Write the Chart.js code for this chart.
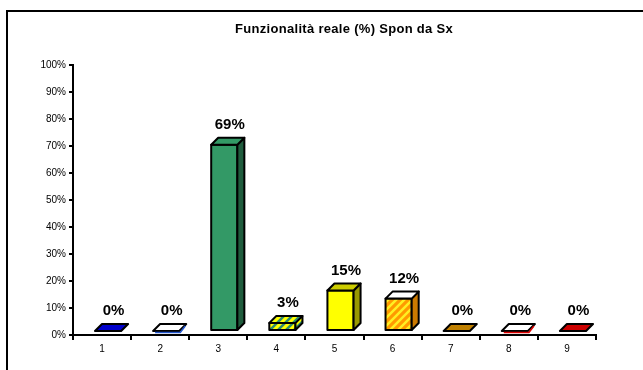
<!DOCTYPE html>
<html>
<head>
<meta charset="utf-8">
<script src="https://cdn.jsdelivr.net/npm/chart.js@4"></script>
<style>
  html, body { margin: 0; padding: 0; background: #fff; overflow: hidden; }
  #wrap { position: relative; width: 643px; height: 370px; }
</style>
</head>
<body>
<div id="wrap"><canvas id="bar-chart" width="643" height="370"></canvas></div>
<script>
const titleText = "Funzionalità reale (%) Spon da Sx";
const categories = ["1", "2", "3", "4", "5", "6", "7", "8", "9"];
const values = [0, 0, 69, 3, 15, 12, 0, 0, 0];
const valueLabels = ["0%", "0%", "69%", "3%", "15%", "12%", "0%", "0%", "0%"];
const yTicks = [0, 10, 20, 30, 40, 50, 60, 70, 80, 90, 100];

// front / side / top colours for each bar
const frontColors = ["#000099", "#ffffff", "#339966", "#ffff00", "#ffff00", "#ff9900", "#cc8800", "#ffffff", "#cc0000"];
const sideColors = ["#000066", "#ffffff", "#1f5c3d", "#2e7d5b", "#999900", "#cc7a00", "#8a5c00", "#ffffff", "#880000"];
const topColors = ["#0000cc", "#ffffff", "#339966", "#ffff00", "#cccc00", "#ffffff", "#c08000", "#ffffff", "#cc0000"];

function stripes(bg, fg) {
  const c = document.createElement("canvas");
  c.width = 8; c.height = 8;
  const g = c.getContext("2d");
  g.fillStyle = bg; g.fillRect(0, 0, 8, 8);
  g.strokeStyle = fg; g.lineWidth = 2.5;
  g.beginPath();
  g.moveTo(-2, 10); g.lineTo(10, -2);
  g.moveTo(-2, 2); g.lineTo(2, -2);
  g.moveTo(6, 10); g.lineTo(10, 6);
  g.stroke();
  return c;
}

const box3d = {
  id: "box3d",
  beforeDraw(chart) {
    const ctx = chart.ctx;
    ctx.save();
    ctx.fillStyle = "#fff";
    ctx.fillRect(0, 0, chart.width, chart.height);
    ctx.strokeStyle = "#000";
    ctx.lineWidth = 2;
    ctx.strokeRect(7, 11, 700, 400);
    ctx.fillStyle = "#000";
    ctx.font = "bold 13px Arial, 'Liberation Sans', sans-serif";
    if ("letterSpacing" in ctx) ctx.letterSpacing = "0.3px";
    ctx.textAlign = "center";
    ctx.textBaseline = "middle";
    ctx.fillText(titleText, 344, 29);
    ctx.restore();
  },
  afterDatasetsDraw(chart) {
    const ctx = chart.ctx;
    const meta = chart.getDatasetMeta(0);
    const dx = 7, dy = 7, lift = 4, shift = 6;
    const pat4 = ctx.createPattern(stripes("#ffff00", "#2e8b6e"), "repeat");
    const pat6 = ctx.createPattern(stripes("#ff9900", "#ffee22"), "repeat");
    ctx.save();
    ctx.lineJoin = "round";
    meta.data.forEach((el, i) => {
      const p = el.getProps(["x", "y", "base", "width"], true);
      const w = p.width;
      const l = p.x + shift - w / 2;
      const r = l + w;
      const b = p.base - lift;
      const t = p.y - lift;
      let front = frontColors[i];
      if (i === 3) front = pat4;
      if (i === 5) front = pat6;
      ctx.strokeStyle = "#000";
      ctx.lineWidth = 2;
      if (b - t > 0.5) {
        // front
        ctx.fillStyle = front;
        ctx.fillRect(l, t, w, b - t);
        ctx.strokeRect(l, t, w, b - t);
        // side
        ctx.beginPath();
        ctx.moveTo(r, b); ctx.lineTo(r + dx, b - dy); ctx.lineTo(r + dx, t - dy); ctx.lineTo(r, t);
        ctx.closePath();
        ctx.fillStyle = i === 3 ? pat4 : sideColors[i];
        ctx.fill(); ctx.stroke();
      }
      // top
      ctx.beginPath();
      ctx.moveTo(l, t); ctx.lineTo(l + dx, t - dy); ctx.lineTo(r + dx, t - dy); ctx.lineTo(r, t);
      ctx.closePath();
      ctx.fillStyle = i === 3 ? pat4 : topColors[i];
      ctx.fill(); ctx.stroke();
      if (i === 1 || i === 7) {
        ctx.strokeStyle = i === 1 ? "#2255cc" : "#dd0000";
        ctx.lineWidth = 1.5;
        ctx.beginPath();
        ctx.moveTo(l + 2, t + 1.5); ctx.lineTo(r + 1, t + 1.5); ctx.lineTo(r + dx - 1, t - dy + 2);
        ctx.stroke();
      }
      // value label
      ctx.fillStyle = "#000";
      ctx.font = "bold 15px Arial, 'Liberation Sans', sans-serif";
      ctx.textAlign = "center";
      ctx.textBaseline = "middle";
      ctx.fillText(valueLabels[i], (l + r) / 2 + dx / 2 + 2, t - dy - 13);
    });
    ctx.restore();
  }
};

new Chart(document.getElementById("bar-chart").getContext("2d"), {
  type: "bar",
  data: {
    labels: categories,
    datasets: [{
      data: values,
      backgroundColor: "rgba(0,0,0,0)",
      borderWidth: 0,
      barPercentage: 0.45,
      categoryPercentage: 1
    }]
  },
  options: {
    responsive: false,
    animation: false,
    events: [],
    layout: { padding: { top: 65, right: 47, bottom: 0, left: 0 } },
    plugins: { legend: { display: false }, tooltip: { enabled: false }, title: { display: false } },
    scales: {
      x: {
        afterFit: (s) => { s.height = 35; },
        grid: { drawOnChartArea: false, drawTicks: true, tickLength: 5, color: "#000", lineWidth: 2, offset: true },
        border: { color: "#000", width: 2 },
        ticks: { color: "#000", font: { family: "Arial, 'Liberation Sans', sans-serif", size: 10 }, padding: 3 }
      },
      y: {
        min: 0,
        max: 100,
        afterFit: (s) => { s.width = 73; },
        afterBuildTicks: (s) => { s.ticks = yTicks.map(v => ({ value: v })); },
        grid: { drawOnChartArea: false, drawTicks: true, tickLength: 4, color: "#000", lineWidth: 2 },
        border: { color: "#000", width: 2 },
        ticks: {
          color: "#000",
          font: { family: "Arial, 'Liberation Sans', sans-serif", size: 10 },
          padding: 3,
          callback: (v) => v + "%"
        }
      }
    }
  },
  plugins: [box3d]
});
</script>
</body>
</html>
